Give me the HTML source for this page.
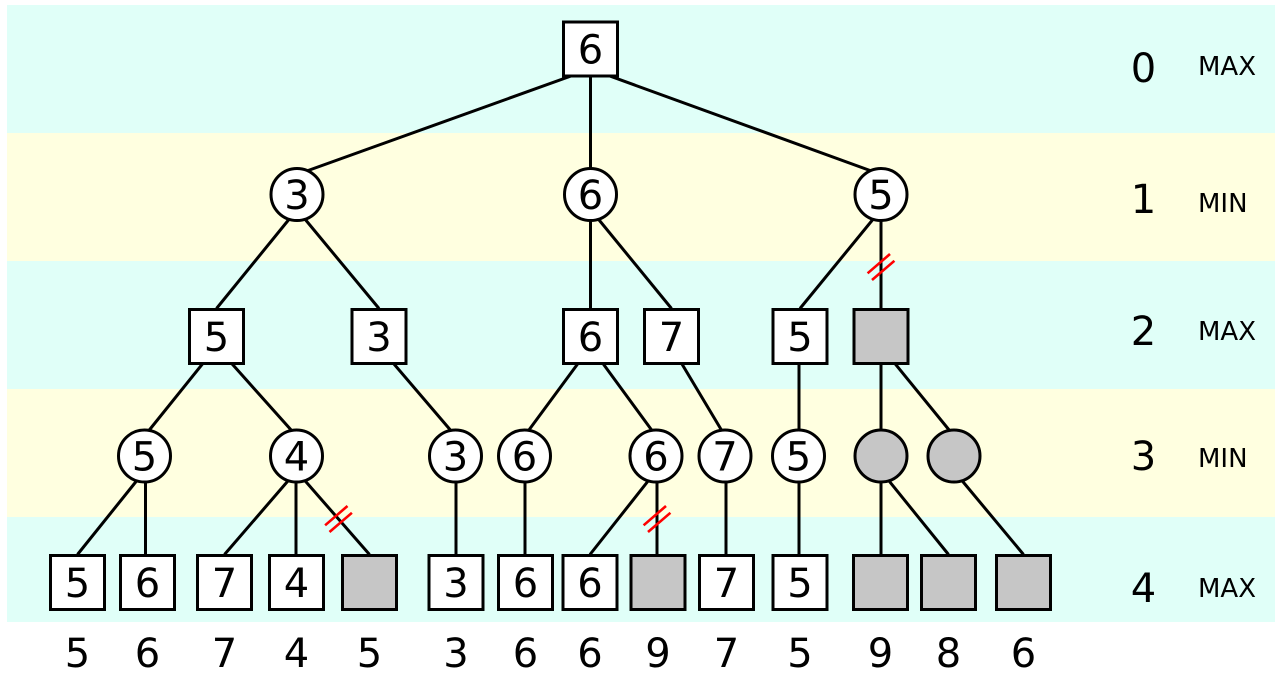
<!DOCTYPE html>
<html>
<head>
<meta charset="utf-8">
<style>
html,body{margin:0;padding:0;background:#fff;}
svg{display:block;}
text{font-family:"DejaVu Sans","Liberation Sans",sans-serif;}
</style>
</head>
<body>
<svg width="1280" height="700" viewBox="0 0 1280 700" xmlns="http://www.w3.org/2000/svg">
  <!-- bands -->
  <rect x="7" y="5" width="1268" height="128" fill="#e0fff8"/>
  <rect x="7" y="133" width="1268" height="128" fill="#ffffe0"/>
  <rect x="7" y="261" width="1268" height="128" fill="#e0fff8"/>
  <rect x="7" y="389" width="1268" height="128" fill="#ffffe0"/>
  <rect x="7" y="517" width="1268" height="105" fill="#e0fff8"/>

  <!-- edges -->
  <g stroke="#000" stroke-width="3" fill="none">
    <line x1="590.5" y1="69" x2="297" y2="174.5"/>
    <line x1="590.5" y1="49" x2="590.5" y2="194.5"/>
    <line x1="590.5" y1="69" x2="881" y2="174.5"/>

    <line x1="297" y1="209.5" x2="216.5" y2="308.5"/>
    <line x1="297" y1="209.5" x2="379" y2="308.5"/>
    <line x1="590.5" y1="194.5" x2="590.5" y2="336.5"/>
    <line x1="590.5" y1="209.5" x2="671.5" y2="308.5"/>
    <line x1="881" y1="209.5" x2="800" y2="308.5"/>
    <line x1="881" y1="194.5" x2="881" y2="336.5"/>

    <line x1="216.5" y1="346.5" x2="144.5" y2="436"/>
    <line x1="216.5" y1="346.5" x2="296.5" y2="436"/>
    <line x1="379" y1="346.5" x2="455.5" y2="436"/>
    <line x1="590.5" y1="346.5" x2="524.5" y2="436"/>
    <line x1="590.5" y1="346.5" x2="656" y2="436"/>
    <line x1="671.5" y1="346.5" x2="725" y2="436"/>
    <line x1="799" y1="336.5" x2="799" y2="456"/>
    <line x1="881" y1="336.5" x2="881" y2="456"/>
    <line x1="881" y1="346.5" x2="954" y2="436"/>

    <line x1="144.5" y1="471" x2="77.5" y2="554.5"/>
    <line x1="145.5" y1="456" x2="145.5" y2="582"/>
    <line x1="296.5" y1="471" x2="224.5" y2="554.5"/>
    <line x1="296" y1="456" x2="296" y2="582"/>
    <line x1="296.5" y1="471" x2="369.5" y2="554.5"/>
    <line x1="456" y1="456" x2="456" y2="582"/>
    <line x1="525" y1="456" x2="525" y2="582"/>
    <line x1="656" y1="471" x2="590" y2="554.5"/>
    <line x1="657" y1="456" x2="657" y2="582"/>
    <line x1="726" y1="456" x2="726" y2="582"/>
    <line x1="799" y1="456" x2="799" y2="582"/>
    <line x1="881" y1="456" x2="881" y2="582"/>
    <line x1="881" y1="471" x2="948.5" y2="554.5"/>
    <line x1="954" y1="471" x2="1023.5" y2="554.5"/>
  </g>

  <!-- prune marks -->
  <g stroke="#ff0000" stroke-width="2.6" fill="none">
    <line x1="867.6" y1="273.3" x2="890" y2="254"/>
    <line x1="872" y1="280" x2="894.4" y2="260.8"/>
    <line x1="325.1" y1="525.3" x2="347.5" y2="506"/>
    <line x1="329.5" y1="532" x2="351.9" y2="512.8"/>
    <line x1="643.6" y1="525.3" x2="666" y2="506"/>
    <line x1="648" y1="532" x2="670.4" y2="512.8"/>
  </g>

  <!-- nodes -->
  <g stroke="#000" stroke-width="3">
    <!-- level 0 -->
    <rect x="563.5" y="22" width="54" height="54" fill="#fff"/>
    <!-- level 1 -->
    <circle cx="297" cy="194.5" r="26" fill="#fff"/>
    <circle cx="590.5" cy="194.5" r="26" fill="#fff"/>
    <circle cx="881" cy="194.5" r="26" fill="#fff"/>
    <!-- level 2 -->
    <rect x="189.5" y="309.5" width="54" height="54" fill="#fff"/>
    <rect x="352" y="309.5" width="54" height="54" fill="#fff"/>
    <rect x="563.5" y="309.5" width="54" height="54" fill="#fff"/>
    <rect x="644.5" y="309.5" width="54" height="54" fill="#fff"/>
    <rect x="773" y="309.5" width="54" height="54" fill="#fff"/>
    <rect x="854" y="309.5" width="54" height="54" fill="#c6c6c6"/>
    <!-- level 3 -->
    <circle cx="144.5" cy="456" r="26" fill="#fff"/>
    <circle cx="296.5" cy="456" r="26" fill="#fff"/>
    <circle cx="455.5" cy="456" r="26" fill="#fff"/>
    <circle cx="524.5" cy="456" r="26" fill="#fff"/>
    <circle cx="656" cy="456" r="26" fill="#fff"/>
    <circle cx="725" cy="456" r="26" fill="#fff"/>
    <circle cx="798.5" cy="456" r="26" fill="#fff"/>
    <circle cx="881" cy="456" r="26" fill="#c6c6c6"/>
    <circle cx="954" cy="456" r="26" fill="#c6c6c6"/>
    <!-- level 4 -->
    <rect x="50.5" y="555.5" width="54" height="54" fill="#fff"/>
    <rect x="120.5" y="555.5" width="54" height="54" fill="#fff"/>
    <rect x="197.5" y="555.5" width="54" height="54" fill="#fff"/>
    <rect x="269.5" y="555.5" width="54" height="54" fill="#fff"/>
    <rect x="342.5" y="555.5" width="54" height="54" fill="#c6c6c6"/>
    <rect x="429" y="555.5" width="54" height="54" fill="#fff"/>
    <rect x="498.5" y="555.5" width="54" height="54" fill="#fff"/>
    <rect x="563" y="555.5" width="54" height="54" fill="#fff"/>
    <rect x="631" y="555.5" width="54" height="54" fill="#c6c6c6"/>
    <rect x="699.5" y="555.5" width="54" height="54" fill="#fff"/>
    <rect x="773" y="555.5" width="54" height="54" fill="#fff"/>
    <rect x="853.5" y="555.5" width="54" height="54" fill="#c6c6c6"/>
    <rect x="921.5" y="555.5" width="54" height="54" fill="#c6c6c6"/>
    <rect x="996.5" y="555.5" width="54" height="54" fill="#c6c6c6"/>
  </g>

  <!-- node labels -->
  <g font-size="40" text-anchor="middle" fill="#000">
    <text x="590.5" y="63.5">6</text>

    <text x="297" y="209">3</text>
    <text x="590.5" y="209">6</text>
    <text x="881" y="209">5</text>

    <text x="216.5" y="351">5</text>
    <text x="379" y="351">3</text>
    <text x="590.5" y="351">6</text>
    <text x="671.5" y="351">7</text>
    <text x="800" y="351">5</text>

    <text x="144.5" y="470.5">5</text>
    <text x="296.5" y="470.5">4</text>
    <text x="455.5" y="470.5">3</text>
    <text x="524.5" y="470.5">6</text>
    <text x="656" y="470.5">6</text>
    <text x="725" y="470.5">7</text>
    <text x="798.5" y="470.5">5</text>

    <text x="77.5" y="597">5</text>
    <text x="147.5" y="597">6</text>
    <text x="224.5" y="597">7</text>
    <text x="296.5" y="597">4</text>
    <text x="456" y="597">3</text>
    <text x="525.5" y="597">6</text>
    <text x="590" y="597">6</text>
    <text x="726.5" y="597">7</text>
    <text x="800" y="597">5</text>

    <!-- bottom values -->
    <text x="77.5" y="667">5</text>
    <text x="147.5" y="667">6</text>
    <text x="224.5" y="667">7</text>
    <text x="296.5" y="667">4</text>
    <text x="369.5" y="667">5</text>
    <text x="456" y="667">3</text>
    <text x="525.5" y="667">6</text>
    <text x="590" y="667">6</text>
    <text x="658" y="667">9</text>
    <text x="726.5" y="667">7</text>
    <text x="800" y="667">5</text>
    <text x="880.5" y="667">9</text>
    <text x="948.5" y="667">8</text>
    <text x="1023.5" y="667">6</text>

    <!-- level numbers -->
    <text x="1143.5" y="82">0</text>
    <text x="1143.5" y="213">1</text>
    <text x="1143.5" y="345">2</text>
    <text x="1143.5" y="470">3</text>
    <text x="1143.5" y="602">4</text>
  </g>

  <g font-size="26" fill="#000">
    <text x="1198" y="75">MAX</text>
    <text x="1198" y="212">MIN</text>
    <text x="1198" y="340">MAX</text>
    <text x="1198" y="467">MIN</text>
    <text x="1198" y="597">MAX</text>
  </g>
</svg>
</body>
</html>
